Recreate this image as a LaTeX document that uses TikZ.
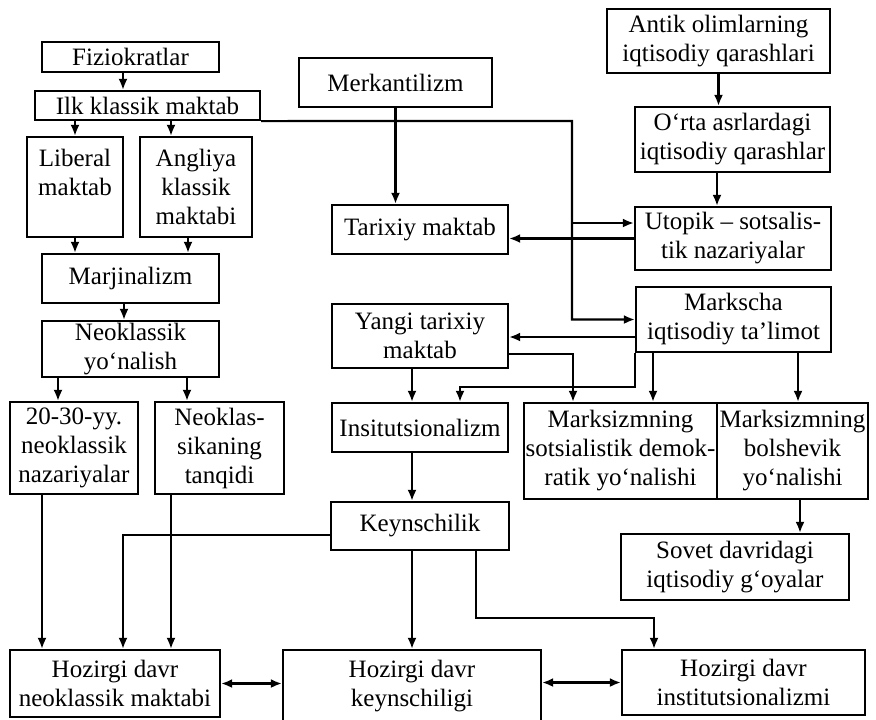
\documentclass[tikz,border=0pt]{standalone}
\usepackage{fontspec}
\setmainfont{Liberation Serif}
\usetikzlibrary{arrows.meta, positioning}

\begin{document}
\begin{tikzpicture}[>={Latex[length=5.5pt, width=4.5pt]}, x=0.5pt, y=-0.5pt, line width=1.1pt]
	\tikzstyle{format} = [draw, line width=1.1pt, rectangle, align=center, inner sep=0.3pt, font=\fontsize{12.5}{14.5}\selectfont]

	\useasboundingbox (0,0) rectangle (876,719);

	% left column
	\path
		node[format, minimum width=88.5pt, minimum height=15pt] (fizio) at (130.5,57) {Fiziokratlar}
		node[format, minimum width=112.5pt, minimum height=14.5pt] (ilk) at (147.5,105.5) {Ilk klassik maktab}
		node[format, minimum width=48pt, minimum height=50pt] (liberal) at (75,187) {Liberal\\maktab\\\mbox{}}
		node[format, minimum width=56pt, minimum height=50pt] (angliya) at (196,187) {Angliya\\klassik\\maktabi}
		node[format, minimum width=88.5pt, minimum height=24.5pt] (marj) at (130.5,278.5) {Marjinalizm}
		node[format, minimum width=88.5pt, minimum height=28pt] (neo) at (130.5,349) {Neoklassik\\yo‘nalish}
		node[format, minimum width=64pt, minimum height=46pt] (nazar) at (74,448) {20-30-yy.\\neoklassik\\nazariyalar}
		node[format, minimum width=64.5pt, minimum height=46pt] (tanqid) at (219.5,448) {Neoklas-\\sikaning\\tanqidi}
	;

	% middle column
	\path
		node[format, minimum width=96.5pt, minimum height=24.5pt] (merkant) at (395.5,82.5) {Merkantilizm}
		node[format, minimum width=88pt, minimum height=24.5pt] (tarix) at (420,229.5) {Tarixiy maktab}
		node[format, minimum width=88pt, minimum height=32pt] (yangi) at (420,336) {Yangi tarixiy\\maktab}
		node[format, minimum width=88pt, minimum height=24.5pt] (insti) at (420,427.5) {Insitutsionalizm}
		node[format, minimum width=89pt, minimum height=24pt] (keyns) at (420,526) {Keynschilik}
	;

	% right column
	\path
		node[format, minimum width=111.5pt, minimum height=32pt] (antik) at (718.5,41) {Antik olimlarning\\iqtisodiy qarashlari}
		node[format, minimum width=97.5pt, minimum height=32.5pt] (orta) at (732.5,139.5) {O‘rta asrlardagi\\iqtisodiy qarashlar}
		node[format, minimum width=98pt, minimum height=31.5pt] (utopik) at (733,238.5) {Utopik – sotsalis-\\tik nazariyalar}
		node[format, minimum width=97.5pt, minimum height=32.5pt] (markscha) at (733.5,319.5) {Markscha\\iqtisodiy ta’limot}
		node[format, minimum width=96.5pt, minimum height=48pt] (sotsdem) at (620.5,451) {Marksizmning\\sotsialistik demok-\\ratik yo‘nalishi}
		node[format, minimum width=75.5pt, minimum height=48pt] (bolsh) at (792.5,451) {Marksizmning\\bolshevik\\yo‘nalishi}
		node[format, minimum width=114pt, minimum height=33pt] (sovet) at (735,567) {Sovet davridagi\\iqtisodiy g‘oyalar}
	;

	% bottom row
	\path
		node[format, minimum width=105pt, minimum height=33.5pt] (hneo) at (115,683.5) {Hozirgi davr\\neoklassik maktabi}
		node[format, minimum width=129pt, minimum height=36pt] (hkeyn) at (412,686) {Hozirgi davr\\keynschiligi}
		node[format, minimum width=121.5pt, minimum height=32.5pt] (hinst) at (743.5,682.5) {Hozirgi davr\\institutsionalizmi}
	;

	\coordinate (turn) at (572,121);

	% classical branch
	\draw[->] ([xshift=-3.75pt]fizio.south) -- ([xshift=-3.75pt]fizio.south |- ilk.north);
	\draw[->] (ilk.south -| liberal.north) -- (liberal.north);
	\draw[->] ([xshift=-12.5pt]angliya.north |- ilk.south) -- ([xshift=-12.5pt]angliya.north);
	\draw[->] (liberal.south) -- (liberal.south |- marj.north);
	\draw[->] ([xshift=-4pt]angliya.south) -- ([xshift=-4pt]angliya.south |- marj.north);
	\draw[->] ([xshift=-3.25pt]marj.south) -- ([xshift=-3.25pt]marj.south |- neo.north);
	\draw[->] ([xshift=-8pt]nazar.north |- neo.south) -- ([xshift=-8pt]nazar.north);
	\draw[->] ([xshift=-16.25pt]tanqid.north |- neo.south) -- ([xshift=-16.25pt]tanqid.north);
	\draw[->] ([xshift=-16pt]nazar.south) -- ([xshift=-16pt]nazar.south |- hneo.north);
	\draw[->] ([xshift=-24.25pt]tanqid.south) -- ([xshift=-24.25pt]tanqid.south |- hneo.north);

	% from the first classical school to the right
	\draw[->] (ilk.south east) -- (turn) |- (markscha.west);
	\draw[->] ([yshift=7.75pt]turn |- utopik.west) -- ([yshift=7.75pt]utopik.west);
	\draw[->] (utopik.west) -- (utopik.west -| tarix.east);
	\draw[->] (merkant.south) -- (merkant.south |- tarix.north);
	\draw[->] (antik.south) -- (antik.south |- orta.north);
	\draw[->] ([xshift=-7.75pt]orta.south) -- ([xshift=-7.75pt]orta.south |- utopik.north);

	% marxian and historical schools
	\draw[->] ([yshift=-8.75pt]markscha.west) -- ([yshift=-8.75pt]markscha.west -| yangi.east);
	\draw[->] ([yshift=-9pt]yangi.east) -| ([xshift=-23.75pt]sotsdem.north);
	\draw[->] ([xshift=-4pt]yangi.south) -- ([xshift=-4pt]yangi.south |- insti.north);
	\draw[->] (markscha.south west) -- ++(0,34) -| ([xshift=20pt]insti.north);
	\draw[->] ([xshift=-40.25pt]markscha.south) -- ([xshift=-40.25pt]markscha.south |- sotsdem.north);
	\draw[->] ([xshift=32.25pt]markscha.south) -- ([xshift=32.25pt]markscha.south |- bolsh.north);
	\draw[->] ([xshift=3.75pt]bolsh.south) -- ([xshift=3.75pt]bolsh.south |- sovet.north);
	\draw[->] ([xshift=-4pt]insti.south) -- ([xshift=-4pt]insti.south |- keyns.north);

	% keynesian links
	\draw[->] ([yshift=-4.5pt]keyns.west) -| ([xshift=4pt]hneo.north);
	\draw[->] (keyns.south -| hkeyn.north) -- (hkeyn.north);
	\draw[->] ([xshift=28pt]keyns.south) -- ++(0,67) -| ([xshift=-44.75pt]hinst.north);
	\draw[<->] (hneo.east) -- (hneo.east -| hkeyn.west);
	\draw[<->] (hinst.west -| hkeyn.east) -- (hinst.west);
\end{tikzpicture}
\end{document}
